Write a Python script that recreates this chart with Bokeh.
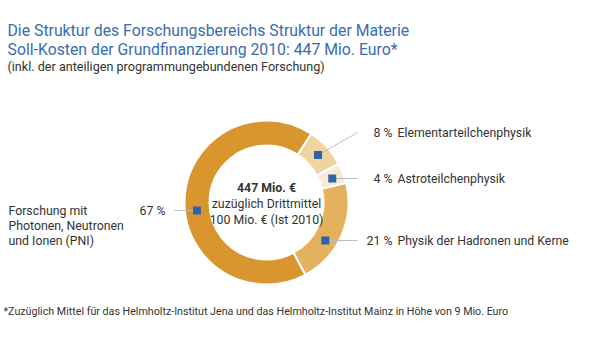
import math
from bokeh.plotting import figure
from bokeh.models import Range1d
from bokeh.core.properties import value
from bokeh.embed import file_html
from bokeh.resources import INLINE

# ---- data ----
categories = ["Elementarteilchenphysik", "Astroteilchenphysik",
              "Physik der Hadronen und Kerne",
              "Forschung mit\nPhotonen, Neutronen\nund Ionen (PNI)"]
shares = [8, 4, 21, 67]
pct_labels = ["8 %", "4 %", "21 %", "67 %"]
slice_colors = ["#F0D49F", "#F8EAD3", "#E4B15E", "#D9962E"]

title_lines = ["Die Struktur des Forschungsbereichs Struktur der Materie",
               "Soll-Kosten der Grundfinanzierung 2010: 447 Mio. Euro*"]
subtitle = "(inkl. der anteiligen programmungebundenen Forschung)"
center_lines = ["447 Mio. €", "zuzüglich Drittmittel", "100 Mio. € (Ist 2010)"]
footnote = "*Zuzüglich Mittel für das Helmholtz-Institut Jena und das Helmholtz-Institut Mainz in Höhe von 9 Mio. Euro"

# ---- layout ----
W, H = 600, 337
FONT = "Roboto"
CX, CY = 266, H - 202
R_OUT, R_IN = 82, 57
R_MID = 70
START_DEG = 57
label_py = [132, 178, 240, 210]   # pixel rows of the labels
LINE_RIGHT = 357
LINE_LEFT = 174

def Y(py):
    return H - py

p = figure(width=W, height=H, output_backend="svg", toolbar_location=None,
           x_range=Range1d(0, W), y_range=Range1d(0, H), min_border=0)
p.axis.visible = False
p.grid.visible = False
p.outline_line_color = None
p.background_fill_color = "white"
p.border_fill_color = "white"

total = sum(shares)
starts, ends, mids = [], [], []
cum = 0
for v in shares:
    s = START_DEG - cum / total * 360
    e = s - v / total * 360
    starts.append(math.radians(s))
    ends.append(math.radians(e))
    mids.append(math.radians((s + e) / 2))
    cum += v

p.annular_wedge(x=CX, y=CY, inner_radius=R_IN, outer_radius=R_OUT,
                start_angle=starts, end_angle=ends, direction="clock",
                fill_color=slice_colors, line_color="white", line_width=2)

# markers and leader lines
mx, my = [], []
for i, m in enumerate(mids):
    x0 = CX + R_MID * math.cos(m)
    y0 = CY + R_MID * math.sin(m)
    ly = Y(label_py[i])
    if abs(ly - y0) < 15:
        dy = ly - CY
        dx = math.sqrt(max(R_MID ** 2 - dy ** 2, 0))
        x0 = CX + (dx if math.cos(m) >= 0 else -dx)
        y0 = ly
    mx.append(x0)
    my.append(y0)
    xe = LINE_RIGHT if math.cos(m) >= 0 else LINE_LEFT
    p.line([x0, xe], [y0, ly], line_color="#BDBDBD", line_width=1)

p.scatter(mx, my, marker="square", size=8, fill_color="#2F63A8", line_color=None)

txt = dict(text_font=value(FONT), text_color="#333333", text_baseline="middle")
FS = "12.3px"

# right labels
for i in range(3):
    p.text([392], [Y(label_py[i])], text=[pct_labels[i]], text_align="right",
           text_font_size=FS, **txt)
    p.text([397], [Y(label_py[i])], text=[categories[i]], text_align="left",
           text_font_size=FS, **txt)

# left label
p.text([165], [Y(label_py[3])], text=[pct_labels[3]], text_align="right",
       text_font_size=FS, **txt)
for k, line in enumerate(categories[3].split("\n")):
    p.text([8], [Y(label_py[3] + 15 * k)], text=[line], text_align="left",
           text_font_size=FS, **txt)

# center text
p.text([CX], [Y(187)], text=[center_lines[0]], text_align="center",
       text_font_size=FS, text_font_style="bold", **txt)
p.text([CX], [Y(203)], text=[center_lines[1]], text_align="center",
       text_font_size=FS, **txt)
p.text([CX], [Y(219)], text=[center_lines[2]], text_align="center",
       text_font_size=FS, **txt)

# titles
for k, line in enumerate(title_lines):
    p.text([7], [Y(30 + 19 * k)], text=[line], text_align="left",
           text_font=value(FONT), text_font_size="15.8px", text_color="#3A6CB0",
           text_baseline="middle")
p.text([7], [Y(66)], text=[subtitle], text_align="left",
       text_font_size="12.6px", **txt)

# footnote
p.text([3], [Y(311)], text=[footnote], text_align="left",
       text_font_size="10.7px", **txt)

open("out.html", "w").write(file_html(p, INLINE))
